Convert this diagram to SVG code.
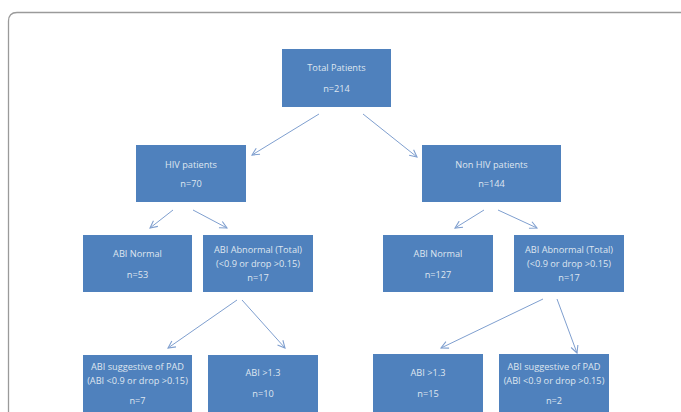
<svg xmlns="http://www.w3.org/2000/svg" width="681" height="412" viewBox="0 0 681 412">
<defs>
<style>
.box{fill:#4f81bd;}
.t{font-family:"Open Sans","Liberation Sans",sans-serif;font-size:9.2px;fill:#dfe6f0;text-anchor:middle;}
.c{stroke:#7f9fcf;stroke-width:1;fill:none;marker-end:url(#ah);}
</style>
<marker id="ah" viewBox="0 0 10 10" refX="9" refY="5" markerWidth="9" markerHeight="9" markerUnits="userSpaceOnUse" orient="auto">
<path d="M1,1 L9,5 L1,9" fill="none" stroke="#7f9fcf" stroke-width="1.2"/>
</marker>
</defs>
<rect x="0" y="0" width="681" height="412" fill="#ffffff"/>
<path d="M8.5,412 V21 Q8.5,12.5 17,12.5 H681" fill="none" stroke="#9a9a9a" stroke-width="1.3"/>
<g id="connectors">
<line class="c" x1="319" y1="114" x2="252" y2="155"/>
<line class="c" x1="363" y1="114" x2="417" y2="157"/>
<line class="c" x1="173" y1="210" x2="150" y2="228"/>
<line class="c" x1="193" y1="210" x2="227" y2="228"/>
<line class="c" x1="484" y1="210" x2="455" y2="228"/>
<line class="c" x1="498" y1="210" x2="537" y2="228"/>
<line class="c" x1="237" y1="300" x2="168" y2="348"/>
<line class="c" x1="242" y1="300" x2="285" y2="348"/>
<line class="c" x1="543" y1="299" x2="441" y2="348"/>
<line class="c" x1="557" y1="299" x2="577" y2="353"/>
</g>
<g id="total"><rect class="box" x="282" y="49" width="109" height="58"/>
<text class="t" x="336.5" y="71">Total Patients</text><text class="t" x="336.5" y="92">n=214</text></g>
<g id="hiv"><rect class="box" x="136" y="145" width="110" height="57"/>
<text class="t" x="191" y="168">HIV patients</text><text class="t" x="191" y="187">n=70</text></g>
<g id="nonhiv"><rect class="box" x="422" y="145" width="139" height="57"/>
<text class="t" x="491.5" y="168">Non HIV patients</text><text class="t" x="491.5" y="187">n=144</text></g>
<g id="hiv-normal"><rect class="box" x="83" y="235" width="109" height="57"/>
<text class="t" x="137.5" y="257">ABI Normal</text><text class="t" x="137.5" y="278">n=53</text></g>
<g id="hiv-abnormal"><rect class="box" x="203" y="235" width="110" height="57"/>
<text class="t" x="258" y="253">ABI Abnormal (Total)</text><text class="t" x="258" y="267">(&lt;0.9 or drop &gt;0.15)</text><text class="t" x="258" y="281">n=17</text></g>
<g id="nonhiv-normal"><rect class="box" x="383" y="235" width="110" height="57"/>
<text class="t" x="438" y="257">ABI Normal</text><text class="t" x="438" y="278">n=127</text></g>
<g id="nonhiv-abnormal"><rect class="box" x="514" y="235" width="110" height="57"/>
<text class="t" x="569" y="253">ABI Abnormal (Total)</text><text class="t" x="569" y="267">(&lt;0.9 or drop &gt;0.15)</text><text class="t" x="569" y="281">n=17</text></g>
<g id="hiv-pad"><rect class="box" x="83" y="355" width="109" height="60"/>
<text class="t" x="137.5" y="370">ABI suggestive of PAD</text><text class="t" x="137.5" y="384">(ABI &lt;0.9 or drop &gt;0.15)</text><text class="t" x="137.5" y="404">n=7</text></g>
<g id="hiv-high"><rect class="box" x="208" y="355" width="110" height="60"/>
<text class="t" x="263" y="376">ABI &gt;1.3</text><text class="t" x="263" y="397">n=10</text></g>
<g id="nonhiv-high"><rect class="box" x="373" y="354" width="110" height="60"/>
<text class="t" x="428" y="376">ABI &gt;1.3</text><text class="t" x="428" y="397">n=15</text></g>
<g id="nonhiv-pad"><rect class="box" x="499" y="354" width="110" height="60"/>
<text class="t" x="554" y="370">ABI suggestive of PAD</text><text class="t" x="554" y="384">(ABI &lt;0.9 or drop &gt;0.15)</text><text class="t" x="554" y="404">n=2</text></g>
</svg>
